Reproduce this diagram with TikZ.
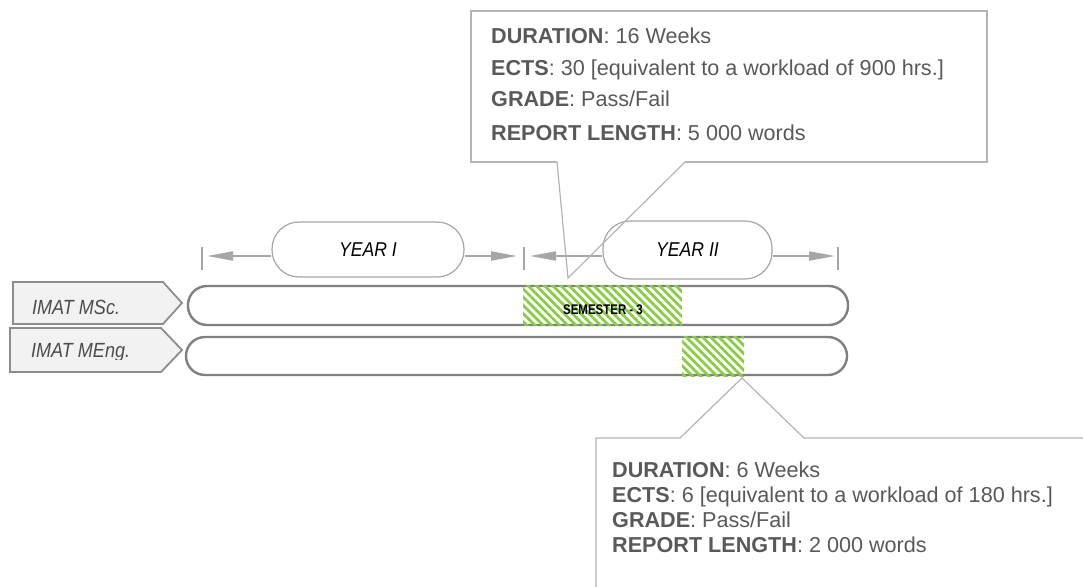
\documentclass[tikz,border=0pt]{standalone}
\usepackage{fontspec}
\setmainfont{Liberation Sans}
\newfontfamily\narrowfont{Liberation Sans}[FakeStretch=0.88]
\newfontfamily\condfont{Liberation Sans}[FakeStretch=0.82]
\usetikzlibrary{arrows.meta,patterns.meta}
\definecolor{txtgray}{HTML}{595959}
\definecolor{linegray}{HTML}{A6A6A6}
\definecolor{bargray}{HTML}{808080}
\definecolor{tagfill}{HTML}{F2F2F2}
\definecolor{hatchgreen}{HTML}{8CCB45}
\definecolor{callgray}{HTML}{B4B4B4}
\begin{document}
\begin{tikzpicture}[x=1pt,y=-1pt,
  bar/.style={draw=bargray,line width=2.4pt,rounded corners=19pt},
  tag/.style={draw=bargray!90,line width=1.8pt,fill=tagfill},
  hatch/.style={pattern={Lines[angle=-45,distance=5.8pt,line width=2.8pt]},pattern color=hatchgreen},
  yearbox/.style={draw=linegray,line width=1.2pt,rounded corners=27pt,inner sep=0pt,
     font=\narrowfont\itshape\fontsize{20}{24}\selectfont,text=black},
  arr/.style={draw=linegray,line width=2pt,-{Triangle[length=26pt,width=9pt]}},
  tick/.style={draw=linegray,line width=1.8pt},
  callout/.style={draw=callgray,line width=1.2pt},
  tagtext/.style={anchor=base west,inner sep=0pt,font=\narrowfont\itshape\fontsize{20.5}{24}\selectfont,text=txtgray!85!black},
  info/.style={anchor=base west,inner sep=0pt,font=\fontsize{21.6}{26}\selectfont,text=txtgray}
]
\useasboundingbox (0,0) rectangle (1083,586);

% bars
\draw[bar] (188,286) rectangle (848,325);
\draw[bar] (186,337) rectangle (847,375);
\fill[hatch] (523,285) rectangle (682,325);
\fill[hatch] (682,336) rectangle (744,376);
\node[anchor=base,inner sep=0pt,font=\condfont\bfseries\fontsize{14}{16}\selectfont,text=black] (sem) at (603,314) {SEMESTER - 3};

% tags
\draw[tag] (13,282) -- (163,282) -- (182,303) -- (163,324) -- (13,324) -- cycle;
\draw[tag] (10,328) -- (161,328) -- (182,350) -- (161,372) -- (10,372) -- cycle;
\node[tagtext] (msc) at (32,314) {IMAT MSc.};
\begin{scope}
\clip (0,328) rectangle (182,359);
\node[tagtext] (meng) at (31,357) {IMAT MEng.};
\end{scope}

% year boxes
\node[yearbox,minimum width=192pt,minimum height=55pt] (y1) at (368,249.5) {YEAR I};
\node[yearbox,minimum width=169pt,minimum height=58pt] (y2) at (687.5,250) {YEAR II};
\coordinate (t1) at (207,256);
\coordinate (t2) at (517,256);
\coordinate (t3) at (530,256);
\coordinate (t4) at (835,256);
\draw[arr] ([yshift=-6.5pt]y1.west) -- (t1);
\draw[arr] ([yshift=-6.5pt]y1.east) -- (t2);
\draw[arr] ([yshift=-6pt]y2.west) -- (t3);
\draw[arr] ([yshift=-6pt]y2.east) -- (t4);
\draw[tick] (202,247) -- (202,270);
\draw[tick] (524,247) -- (524,270);
\draw[tick] (838,247) -- (838,270);

% top callout
\draw[callout,line join=miter] (557,162) -- (471,162) -- (471,11) -- (987,11) -- (987,162) -- (685,162);
\draw[callout,line join=miter] (557,162) -- (568,278) -- (685,162);
\node[info] (d1) at (491,44) {\textbf{DURATION}: 16 Weeks};
\node[info] (e1) at (491,75) {\textbf{ECTS}: 30 [equivalent to a workload of 900 hrs.]};
\node[info] (g1) at (491,106) {\textbf{GRADE}: Pass/Fail};
\node[info] (r1) at (491,140) {\textbf{REPORT LENGTH}: 5 000 words};

% bottom callout
\draw[callout,line join=miter] (596,590) -- (596,438) -- (680,438) -- (742,378) -- (804,438) -- (1090,438);
\node[info] (d2) at (612,477) {\textbf{DURATION}: 6 Weeks};
\node[info] (e2) at (612,502) {\textbf{ECTS}: 6 [equivalent to a workload of 180 hrs.]};
\node[info] (g2) at (612,527) {\textbf{GRADE}: Pass/Fail};
\node[info] (r2) at (612,552) {\textbf{REPORT LENGTH}: 2 000 words};
\end{tikzpicture}
\end{document}
